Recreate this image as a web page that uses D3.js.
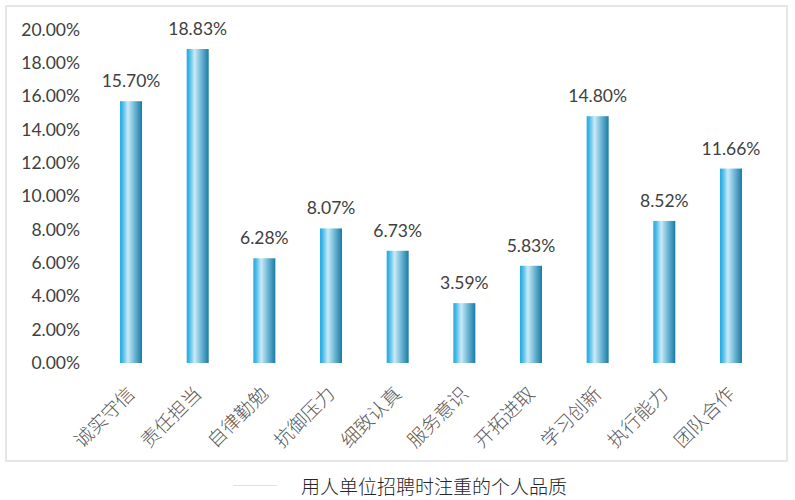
<!DOCTYPE html>
<html><head><meta charset="utf-8">
<script src="https://cdn.jsdelivr.net/npm/d3@7"></script>
<style>
html,body{margin:0;padding:0;background:#fff;}
svg{display:block;}
</style></head>
<body>
<svg id="chart" width="795" height="500"></svg>
<script>
const categories = ["诚实守信","责任担当","自律勤勉","抗御压力","细致认真","服务意识","开拓进取","学习创新","执行能力","团队合作"];
const values = [15.70, 18.83, 6.28, 8.07, 6.73, 3.59, 5.83, 14.80, 8.52, 11.66];
const yTicks = [0,2,4,6,8,10,12,14,16,18,20];
const title = "用人单位招聘时注重的个人品质";

const svg = d3.select("#chart");
const defs = svg.append("defs");
const grad = defs.append("linearGradient").attr("id","barGrad").attr("x1","0%").attr("x2","100%").attr("y1","0%").attr("y2","0%");
[[0,"#22a9de"],[0.12,"#46bae8"],[0.36,"#cbeaf6"],[0.62,"#78bedb"],[1,"#1a7aa3"]].forEach(s=>{
  grad.append("stop").attr("offset",s[0]).attr("stop-color",s[1]);
});

// frame
svg.append("rect").attr("x",6).attr("y",6).attr("width",781).attr("height",455)
  .attr("fill","#fff").attr("stroke","#e6e6e6").attr("stroke-width",2);

const x = d3.scaleBand().domain(categories).range([97.7,764.3]).paddingInner(0.67).paddingOuter(0.335);
const y = d3.scaleLinear().domain([0,20]).range([363,29.5]);

// y axis labels
const yAxis = d3.axisLeft(y).tickValues(yTicks).tickSize(0).tickPadding(0)
  .tickFormat(d=>d3.format(".2f")(d)+"%");
const yg = svg.append("g").attr("transform","translate(80,0)").call(yAxis);
yg.select(".domain").remove();
yg.selectAll("text").attr("font-family","Lato, 'Open Sans', sans-serif").attr("font-size",17.5).attr("fill","#404040");

// bars
svg.append("g").selectAll("rect").data(values).join("rect")
  .attr("x",(d,i)=>x(categories[i]))
  .attr("y",d=>y(d))
  .attr("width",x.bandwidth())
  .attr("height",d=>y(0)-y(d))
  .attr("fill","url(#barGrad)");

// value labels
svg.append("g").selectAll("text").data(values).join("text")
  .attr("x",(d,i)=>x(categories[i])+x.bandwidth()/2)
  .attr("y",d=>y(d)-14)
  .attr("text-anchor","middle")
  .attr("font-family","Lato, 'Open Sans', sans-serif").attr("font-size",17.5).attr("fill","#404040")
  .text(d=>d3.format(".2f")(d)+"%");

// x axis labels
const xAxis = d3.axisBottom(x).tickSize(0).tickPadding(0);
const xg = svg.append("g").attr("transform","translate(0,363)").call(xAxis);
xg.select(".domain").remove();
xg.selectAll("text")
  .attr("font-family","'Noto Sans CJK SC', sans-serif").attr("font-size",19).attr("fill","#595959")
  .attr("font-weight",300)
  .attr("text-anchor","end").attr("dy",null).attr("y",0).attr("x",0)
  .attr("transform","translate(5,32) rotate(-45)");

// faint legend line
svg.append("line").attr("x1",233).attr("x2",277).attr("y1",485.5).attr("y2",485.5)
  .attr("stroke","#e0e0e0").attr("stroke-width",1);

// title
svg.append("text").attr("x",434).attr("y",494).attr("text-anchor","middle")
  .attr("font-family","'Noto Sans CJK SC', sans-serif").attr("font-size",19).attr("fill","#262626")
  .attr("font-weight",300)
  .text(title);
</script>
</body></html>
